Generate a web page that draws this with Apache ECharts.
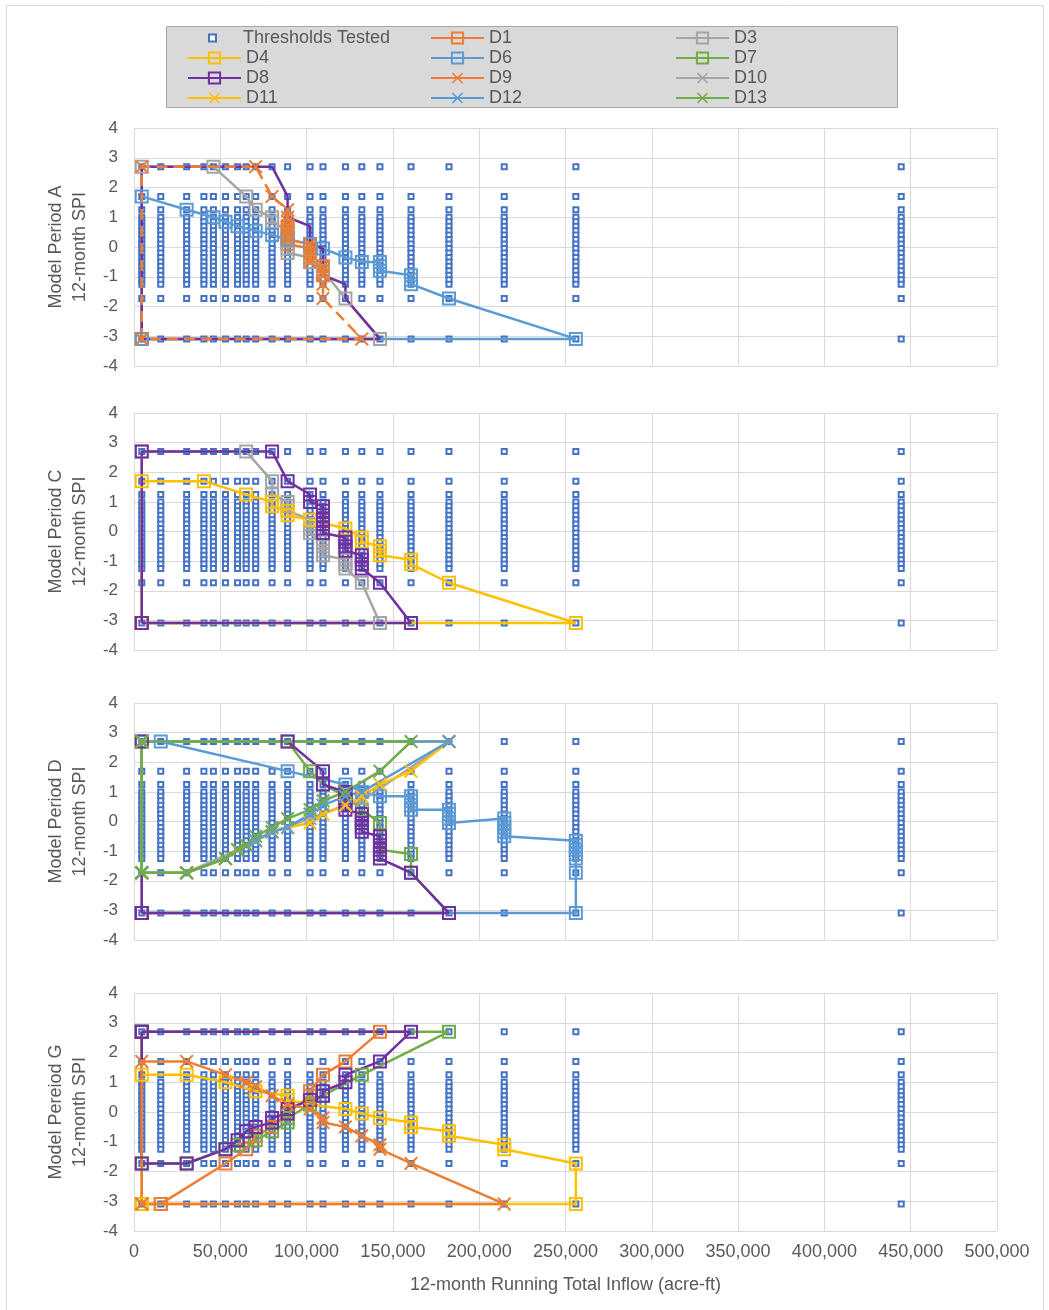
<!DOCTYPE html>
<html>
<head>
<meta charset="utf-8">
<style>
  html, body { margin: 0; padding: 0; background: #ffffff; }
  #chart { width: 1049px; height: 1310px; }
</style>
<script src="https://cdn.jsdelivr.net/npm/echarts@6/dist/echarts.min.js"></script>
</head>
<body>
<div id="chart"></div>
<script>
// ---------- DATA ----------
// Inflow thresholds tested (acre-ft) and SPI thresholds tested
const INFLOW_THRESHOLDS = [4500, 15500, 30500, 40500, 46000, 53000, 60000, 65000, 70500, 80000, 89000, 102000, 109500, 122500, 132000, 142500, 160500, 182500, 214500, 256000, 444500];
const SPI_THRESHOLDS = [2.7, 1.7, 1.25, 1.0, 0.85, 0.7, 0.55, 0.4, 0.25, 0.1, -0.05, -0.2, -0.35, -0.5, -0.65, -0.8, -0.95, -1.1, -1.25, -1.73, -3.09];

const X_TICKS = [0, 50000, 100000, 150000, 200000, 250000, 300000, 350000, 400000, 450000, 500000];
const Y_TICKS = [-4, -3, -2, -1, 0, 1, 2, 3, 4];

const PANEL_NAMES = ['Model Period A', 'Model Period C', 'Model Period D', 'Model Pereiod G'];
const SERIES_NAMES = ['D1', 'D3', 'D4', 'D6', 'D7', 'D8', 'D9', 'D10', 'D11', 'D12', 'D13'];

// Period A
const A_D1 = [[89000,0.7],[89000,0.55],[89000,0.4],[89000,0.25],[89000,0.1],[102000,-0.05],[102000,-0.2],[102000,-0.35],[102000,-0.5],[109500,-0.65],[109500,-0.8],[109500,-0.95]];
const A_D3 = [[4500,-3.09],[4500,2.7],[46000,2.7],[65000,1.7],[70500,1.25],[80000,1.0],[80000,0.85],[89000,0.55],[89000,0.25],[89000,-0.05],[89000,-0.2],[102000,-0.35],[102000,-0.5],[109500,-0.8],[122500,-1.73],[142500,-3.09],[4500,-3.09]];
const A_D6 = [[4500,-3.09],[4500,1.7],[30500,1.25],[46000,1.0],[53000,0.85],[60000,0.7],[70500,0.55],[80000,0.4],[89000,0.25],[102000,0.1],[109500,-0.05],[122500,-0.35],[132000,-0.5],[142500,-0.5],[142500,-0.65],[142500,-0.8],[160500,-0.95],[160500,-1.1],[160500,-1.25],[182500,-1.73],[256000,-3.09],[4500,-3.09]];
const A_D8 = [[4500,-3.09],[4500,2.7],[80000,2.7],[89000,1.7],[89000,1.0],[102000,0.7],[102000,0.1],[109500,-0.05],[109500,-0.95],[122500,-1.25],[122500,-1.73],[142500,-3.09],[4500,-3.09]];
const A_D9 = [[4500,-3.09],[4500,2.7],[70500,2.7],[80000,1.7],[89000,1.25],[89000,1.0],[89000,0.85],[89000,0.7],[89000,0.55],[89000,0.4],[89000,0.25],[102000,0.1],[102000,-0.05],[102000,-0.2],[102000,-0.35],[102000,-0.5],[109500,-0.65],[109500,-0.8],[109500,-0.95],[109500,-1.25],[109500,-1.73],[132000,-3.09],[4500,-3.09]];

// Period C
const C_D3 = [[4500,-3.09],[4500,2.7],[65000,2.7],[80000,1.7],[80000,1.25],[89000,1.0],[89000,0.85],[89000,0.7],[102000,0.4],[102000,0.25],[102000,0.1],[102000,-0.05],[109500,-0.35],[109500,-0.5],[109500,-0.65],[109500,-0.8],[122500,-0.95],[122500,-1.1],[122500,-1.25],[132000,-1.73],[142500,-3.09],[4500,-3.09]];
const C_D4 = [[4500,-3.09],[4500,1.7],[40500,1.7],[65000,1.25],[80000,1.0],[80000,0.85],[89000,0.7],[89000,0.55],[102000,0.4],[122500,0.1],[132000,-0.2],[132000,-0.35],[142500,-0.5],[142500,-0.65],[142500,-0.8],[160500,-0.95],[160500,-1.1],[182500,-1.73],[256000,-3.09],[4500,-3.09]];
const C_D8 = [[4500,-3.09],[4500,2.7],[80000,2.7],[89000,1.7],[102000,1.25],[102000,1.0],[109500,0.85],[109500,0.7],[109500,0.55],[109500,0.4],[109500,0.25],[109500,0.1],[109500,-0.05],[122500,-0.2],[122500,-0.35],[122500,-0.5],[122500,-0.65],[132000,-0.8],[132000,-0.95],[132000,-1.1],[132000,-1.25],[142500,-1.73],[160500,-3.09],[4500,-3.09]];

// Period D
const D_D6 = [[15500,2.7],[89000,1.7],[122500,1.25],[132000,1.0],[142500,0.85],[160500,0.85],[160500,0.7],[160500,0.55],[160500,0.4],[182500,0.4],[182500,0.25],[182500,0.1],[182500,-0.05],[214500,0.1],[214500,-0.05],[214500,-0.2],[214500,-0.35],[214500,-0.5],[256000,-0.65],[256000,-0.8],[256000,-0.95],[256000,-1.1],[256000,-1.25],[256000,-1.73],[256000,-3.09],[4500,-3.09]];
const D_D7 = [[4500,-3.09],[4500,2.7],[89000,2.7],[102000,1.7],[109500,1.25],[122500,0.85],[132000,0.4],[142500,-0.05],[142500,-0.5],[142500,-0.95],[160500,-1.1],[160500,-1.73],[182500,-3.09],[4500,-3.09]];
const D_D8 = [[4500,-3.09],[4500,2.7],[89000,2.7],[109500,1.7],[109500,1.25],[122500,1.0],[122500,0.85],[122500,0.7],[122500,0.55],[122500,0.4],[132000,0.25],[132000,0.1],[132000,-0.05],[132000,-0.2],[132000,-0.35],[142500,-0.5],[142500,-0.65],[142500,-0.8],[142500,-0.95],[142500,-1.1],[142500,-1.25],[160500,-1.73],[182500,-3.09],[4500,-3.09]];
const D_D10 = [[4500,-1.73],[30500,-1.73],[60000,-0.95],[80000,-0.35],[102000,0.1],[122500,0.55],[132000,0.7],[182500,2.7],[4500,2.7],[4500,-1.73]];
const D_D11 = [[4500,-1.73],[30500,-1.73],[53000,-1.25],[60000,-0.95],[70500,-0.65],[80000,-0.35],[89000,-0.2],[102000,-0.05],[109500,0.25],[122500,0.55],[132000,0.85],[142500,1.25],[160500,1.7],[182500,2.7],[4500,2.7],[4500,-1.73]];
const D_D12 = [[4500,-1.73],[30500,-1.73],[53000,-1.25],[65000,-0.8],[70500,-0.65],[80000,-0.35],[89000,-0.2],[102000,0.25],[109500,0.55],[122500,0.85],[132000,1.0],[182500,2.7],[4500,2.7],[4500,-1.73]];
const D_D13 = [[4500,-1.73],[30500,-1.73],[53000,-1.25],[60000,-0.95],[65000,-0.8],[70500,-0.5],[80000,-0.2],[89000,0.1],[102000,0.4],[109500,0.7],[122500,1.0],[142500,1.7],[160500,2.7],[4500,2.7],[4500,-1.73]];

// Period G
const G_D1 = [[15500,-3.09],[53000,-1.73],[65000,-1.25],[70500,-0.8],[80000,-0.5],[89000,-0.05],[102000,0.55],[102000,0.7],[109500,1.25],[122500,1.7],[142500,2.7],[4500,2.7],[4500,-3.09],[15500,-3.09]];
const G_D4 = [[4500,-3.09],[4500,1.25],[30500,1.25],[53000,1.0],[70500,0.7],[89000,0.55],[89000,0.4],[102000,0.25],[122500,0.1],[132000,-0.05],[142500,-0.2],[160500,-0.35],[160500,-0.5],[182500,-0.65],[182500,-0.8],[214500,-1.1],[214500,-1.25],[256000,-1.73],[256000,-3.09],[4500,-3.09]];
const G_D7 = [[4500,2.7],[182500,2.7],[132000,1.25],[109500,0.55],[102000,0.25],[89000,-0.2],[89000,-0.35],[80000,-0.65],[70500,-0.95],[60000,-1.1],[53000,-1.25],[30500,-1.73],[4500,-1.73],[4500,2.7]];
const G_D8 = [[4500,2.7],[160500,2.7],[142500,1.7],[122500,1.25],[122500,1.0],[109500,0.7],[109500,0.55],[102000,0.4],[89000,0.1],[89000,-0.05],[80000,-0.2],[80000,-0.35],[70500,-0.5],[65000,-0.65],[60000,-0.95],[53000,-1.25],[30500,-1.73],[4500,-1.73],[4500,2.7]];
const G_D9 = [[4500,-3.09],[4500,1.7],[30500,1.7],[53000,1.25],[65000,1.0],[70500,0.85],[80000,0.55],[89000,0.25],[102000,0.1],[109500,-0.2],[109500,-0.35],[122500,-0.5],[132000,-0.8],[142500,-1.1],[142500,-1.25],[160500,-1.73],[214500,-3.09],[4500,-3.09]];

// ---------- STYLE ----------
const COLORS = { D1:'#ED7D31', D3:'#A5A5A5', D4:'#FFC000', D6:'#5B9BD5', D7:'#70AD47', D8:'#7030A0',
                 D9:'#ED7D31', D10:'#A5A5A5', D11:'#FFC000', D12:'#5B9BD5', D13:'#70AD47' };
const MARK = { D1:'sq', D3:'sq', D4:'sq', D6:'sq', D7:'sq', D8:'sq', D9:'x', D10:'x', D11:'x', D12:'x', D13:'x' };
const X_PATH = 'path://M1,0 L5,4 L9,0 L10,1 L6,5 L10,9 L9,10 L5,6 L1,10 L0,9 L4,5 L0,1 Z';
const TEXT = '#595959';
const FONT = 'Liberation Sans, Arial, sans-serif';

const PANEL_DATA = [
  { D1:A_D1, D3:A_D3, D6:A_D6, D8:A_D8, D9:A_D9 },
  { D3:C_D3, D4:C_D4, D8:C_D8 },
  { D6:D_D6, D7:D_D7, D8:D_D8, D10:D_D10, D11:D_D11, D12:D_D12, D13:D_D13 },
  { D1:G_D1, D4:G_D4, D7:G_D7, D8:G_D8, D9:G_D9 }
];
// panel-specific line styles (period A: D8 without markers, D9 dashed)
const OVERRIDES = { '0_D8': { noSymbol:true }, '0_D9': { dashed:true } };

const GRID_TOPS = [128, 413, 703, 993];
const GRID_H = [238, 237, 237, 238];

const thresholdPoints = [];
INFLOW_THRESHOLDS.forEach(x => SPI_THRESHOLDS.forEach(y => thresholdPoints.push([x, y])));

const fmt = v => v.toLocaleString('en-US');

const grids = [], xAxes = [], yAxes = [], series = [];
for (let p = 0; p < 4; p++) {
  grids.push({ left: 134, top: GRID_TOPS[p], width: 863, height: GRID_H[p], containLabel: false });
  xAxes.push({
    type: 'value', gridIndex: p, min: X_TICKS[0], max: X_TICKS[X_TICKS.length - 1], interval: X_TICKS[1] - X_TICKS[0],
    axisLine: { show: false }, axisTick: { show: false },
    splitLine: { show: true, lineStyle: { color: '#d9d9d9', width: 1 } },
    axisLabel: { show: p === 3, color: TEXT, fontSize: 18, fontFamily: FONT, margin: 12, formatter: fmt },
    name: p === 3 ? '12-month Running Total Inflow (acre-ft)' : '',
    nameLocation: 'middle', nameGap: 45,
    nameTextStyle: { color: TEXT, fontSize: 18, fontFamily: FONT }
  });
  yAxes.push({
    type: 'value', gridIndex: p, min: Y_TICKS[0], max: Y_TICKS[Y_TICKS.length - 1], interval: 1,
    axisLine: { show: false }, axisTick: { show: false },
    splitLine: { show: true, lineStyle: { color: '#d9d9d9', width: 1 } },
    axisLabel: { color: TEXT, fontSize: 17, fontFamily: FONT, margin: 16 },
    name: PANEL_NAMES[p] + '\n12-month SPI',
    nameLocation: 'middle', nameGap: 40, nameRotate: 90,
    nameTextStyle: { color: TEXT, fontSize: 18, fontFamily: FONT, lineHeight: 24 }
  });
}

// Thresholds tested (scatter)
for (let p = 0; p < 4; p++) {
  series.push({
    name: 'Thresholds Tested', type: 'scatter', xAxisIndex: p, yAxisIndex: p,
    data: thresholdPoints, symbol: 'rect', symbolSize: 5,
    itemStyle: { color: '#ffffff', borderColor: '#4472C4', borderWidth: 2, opacity: 1 },
    z: 2, silent: true
  });
}

function makeSeries(name, p, data) {
  const c = COLORS[name];
  const o = OVERRIDES[p + '_' + name] || {};
  const isX = MARK[name] === 'x';
  return {
    name, type: 'line', xAxisIndex: p, yAxisIndex: p, data,
    symbol: o.noSymbol ? 'none' : (isX ? X_PATH : 'rect'),
    symbolSize: isX ? 14 : 12,
    showAllSymbol: true,
    lineStyle: { color: c, width: 2.5, type: o.dashed ? [11, 6] : 'solid' },
    itemStyle: isX ? { color: c, borderWidth: 0 }
                   : { color: 'rgba(255,255,255,0)', borderColor: c, borderWidth: 2 },
    z: 3, silent: true
  };
}
const deferred = [];
SERIES_NAMES.forEach(name => {
  for (let p = 0; p < 4; p++) {
    const d = PANEL_DATA[p][name];
    if (!d) continue;
    const s = makeSeries(name, p, d);
    if (OVERRIDES[p + '_' + name]) deferred.push(s); else series.push(s);
  }
});
deferred.forEach(s => series.push(s));

const legendCommon = {
  orient: 'vertical', itemWidth: 53, itemHeight: 14, itemGap: 2, padding: 0,
  selectedMode: false,
  textStyle: { color: TEXT, fontSize: 18, fontFamily: FONT }
};
const option = {
  animation: false,
  backgroundColor: '#ffffff',
  textStyle: { fontFamily: FONT },
  graphic: [
    { type: 'rect', shape: { x: 6.5, y: 5.5, width: 1037, height: 1310 }, style: { fill: 'none', stroke: '#d9d9d9', lineWidth: 1 }, z: -10, silent: true },
    { type: 'rect', shape: { x: 166.5, y: 26.5, width: 731, height: 81 }, style: { fill: '#d9d9d9', stroke: '#a6a6a6', lineWidth: 1 }, z: 0, silent: true }
  ],
  legend: [
    { orient: 'vertical', left: 208, top: 29, itemWidth: 7, itemHeight: 7, padding: 0, selectedMode: false,
      data: ['Thresholds Tested'],
      textStyle: { color: TEXT, fontSize: 18, fontFamily: FONT, padding: [0, 0, 0, 22] } },
    Object.assign({ left: 187, top: 49, data: ['D4', 'D8', 'D11'] }, legendCommon),
    Object.assign({ left: 430, top: 29, data: ['D1', 'D6', 'D9', 'D12'] }, legendCommon),
    Object.assign({ left: 675, top: 29, data: ['D3', 'D7', 'D10', 'D13'] }, legendCommon)
  ],
  grid: grids, xAxis: xAxes, yAxis: yAxes, series
};
const chart = echarts.init(document.getElementById('chart'), null, { renderer: 'canvas' });
chart.setOption(option);
</script>
</body>
</html>
